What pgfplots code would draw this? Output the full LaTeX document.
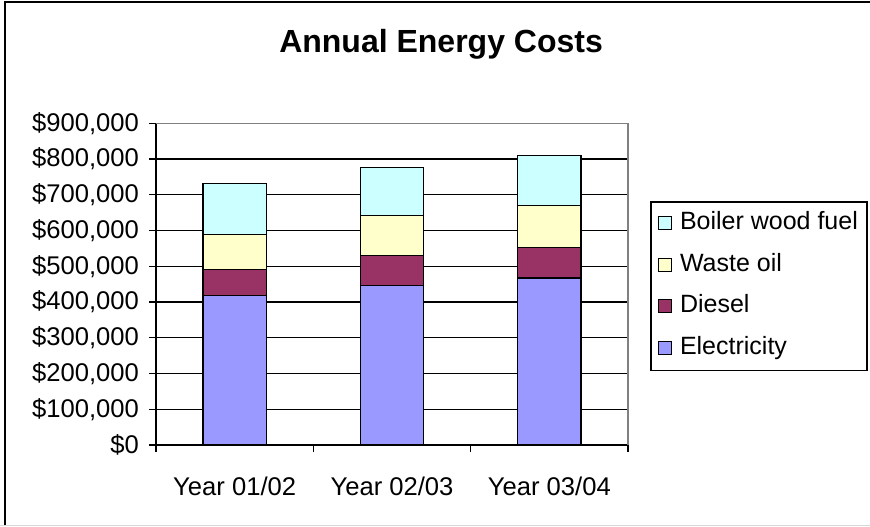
\documentclass[border=0pt]{standalone}
\usepackage{fontspec}
\setmainfont{Liberation Sans}
\usepackage{pgfplots}
\pgfplotsset{compat=1.18}

\definecolor{elec}{HTML}{9999FF}
\definecolor{diesel}{HTML}{993366}
\definecolor{waste}{HTML}{FFFFCC}
\definecolor{boiler}{HTML}{CCFFFF}

\begin{document}
\begin{tikzpicture}
\useasboundingbox (-78pt,-40.5pt) rectangle (357pt,222.5pt);
% outer chart frame (left and top edges only)
\draw[black, line width=1pt] (-75.25pt,-40.5pt) -- (-75.25pt,221.35pt) -- (357pt,221.35pt);
\draw[black!15, line width=0.5pt] (-78pt,-40.2pt) -- (357pt,-40.2pt);
\begin{axis}[
    at={(0,0)}, anchor=south west,
    scale only axis,
    width=236pt, height=160.85pt,
    ybar stacked,
    bar width=31.75pt,
    clip=false,
    xmin=0.5, xmax=3.5,
    ymin=0, ymax=900000,
    xtick={0.5,1.5,2.5,3.5},
    xticklabels={},
    extra x ticks={1,2,3},
    extra x tick labels={Year 01/02,Year 02/03,Year 03/04},
    extra x tick style={grid=none, tick style={draw=none},
        xticklabel style={yshift=-9pt}},
    ytick={0,100000,200000,300000,400000,500000,600000,700000,800000,900000},
    yticklabels={{\$0},{\$100,000},{\$200,000},{\$300,000},{\$400,000},{\$500,000},{\$600,000},{\$700,000},{\$800,000},{\$900,000}},
    yticklabel style={xshift=-1.5pt},
    scaled y ticks=false,
    xtick pos=lower, ytick pos=left,
    tick align=outside,
    major tick length=3.5pt,
    tick style={black, line width=0.6pt},
    ymajorgrids=true,
    grid style={black, line width=0.6pt},
    axis line style={draw=none},
    ticklabel style={font=\fontsize{12.8}{15}\selectfont},
    title={Annual Energy Costs},
    title style={at={(0.604,1.208)}, anchor=center, font=\bfseries\fontsize{16}{19}\selectfont},
    reverse legend,
    legend cell align=left,
    legend style={at={(1.0466,0.7585)}, anchor=north west,
        draw=black, line width=0.8pt,
        font=\fontsize{12.5}{15}\selectfont,
        inner xsep=3.5pt, inner ysep=4pt,
        row sep=6.75pt,
        /tikz/every odd column/.append style={column sep=3pt},
        nodes={inner sep=1pt, text height=9pt, text depth=3pt}},
    legend image code/.code={\draw[#1, line width=0.6pt] (0pt,-3pt) rectangle (6.5pt,3.5pt);},
    every axis plot/.append style={draw=black, line width=0.6pt},
]
\addplot[fill=elec] coordinates {(1,418000) (2,446000) (3,467000)};
\addplot[fill=diesel] coordinates {(1,72000) (2,84000) (3,85000)};
\addplot[fill=waste] coordinates {(1,100000) (2,111000) (3,117000)};
\addplot[fill=boiler] coordinates {(1,141000) (2,135000) (3,141000)};
\legend{Electricity,Diesel,Waste oil,Boiler wood fuel}
\draw[gray, line width=0.6pt] (rel axis cs:0,1) -- (rel axis cs:1,1) -- (rel axis cs:1,0);
\draw[black, line width=0.6pt] (rel axis cs:0,1) -- (rel axis cs:0,0) -- (rel axis cs:1,0);
\end{axis}
\end{tikzpicture}
\end{document}
